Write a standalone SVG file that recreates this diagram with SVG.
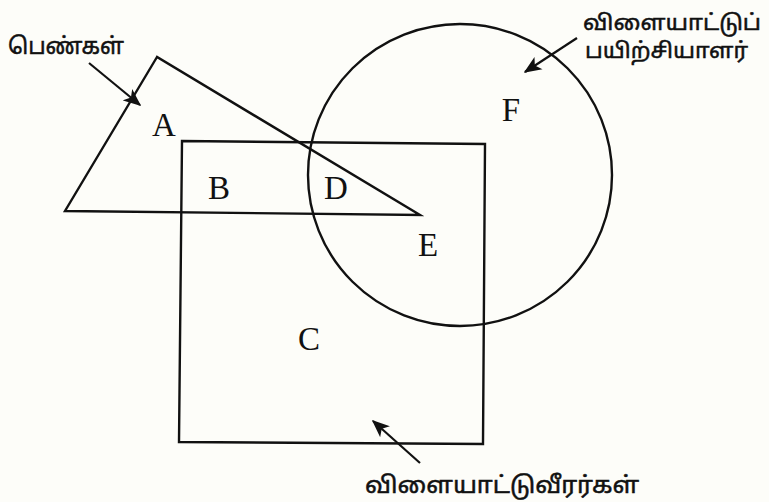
<svg xmlns="http://www.w3.org/2000/svg" width="769" height="502" viewBox="0 0 769 502">
  <style>
    .shape { fill: none; stroke: #111; stroke-width: 2.4; stroke-linejoin: miter; }
    .arrow { fill: none; stroke: #111; stroke-width: 2.2; }
    .letter { font-family: "Liberation Serif", "Times New Roman", serif; font-size: 33px; fill: #111; text-anchor: middle; }
    .tamil { font-family: "Noto Sans Tamil", "Lohit Tamil", "Noto Sans", "DejaVu Sans", sans-serif; font-size: 23px; fill: #111; stroke: #111; stroke-width: 0.5; }
    .tamil-sm { font-size: 21.5px; }
  </style>
  <defs>
    <marker id="head" viewBox="0 0 12 10" refX="11" refY="5" markerWidth="8" markerHeight="7" markerUnits="strokeWidth" orient="auto">
      <path d="M0,0 L12,5 L0,10 L3,5 Z" fill="#111"/>
    </marker>
  </defs>
  <rect width="769" height="502" fill="#fdfdf9"/>

  <g id="triangle-women">
    <polygon class="shape" points="157,57 65,211 420,215"/>
  </g>
  <g id="square-players">
    <polygon class="shape" points="182,141 485,144 483,444 179,442"/>
  </g>
  <g id="circle-coaches">
    <ellipse class="shape" cx="460" cy="175" rx="152" ry="151"/>
  </g>

  <g id="region-labels">
    <text class="letter" x="164" y="136">A</text>
    <text class="letter" x="219" y="199">B</text>
    <text class="letter" x="336" y="199">D</text>
    <text class="letter" x="428" y="256">E</text>
    <text class="letter" x="511" y="121">F</text>
    <text class="letter" x="309" y="350">C</text>
  </g>

  <g id="label-women">
    <text class="tamil" x="8" y="54" textLength="116" lengthAdjust="spacingAndGlyphs">பெண்கள்</text>
  </g>
  <g id="label-coaches">
    <text class="tamil tamil-sm" x="583" y="30" textLength="178" lengthAdjust="spacingAndGlyphs">விளையாட்டுப்</text>
    <text class="tamil tamil-sm" x="585" y="58" textLength="163" lengthAdjust="spacingAndGlyphs">பயிற்சியாளர்</text>
  </g>
  <g id="label-players">
    <text class="tamil" x="365" y="493" textLength="274" lengthAdjust="spacingAndGlyphs">விளையாட்டுவீரர்கள்</text>
  </g>

  <g id="connectors">
    <line class="arrow" x1="89" y1="63" x2="140" y2="105" marker-end="url(#head)"/>
    <line class="arrow" x1="577" y1="38" x2="525" y2="72" marker-end="url(#head)"/>
    <line class="arrow" x1="420" y1="463" x2="373" y2="421" marker-end="url(#head)"/>
  </g>
</svg>
